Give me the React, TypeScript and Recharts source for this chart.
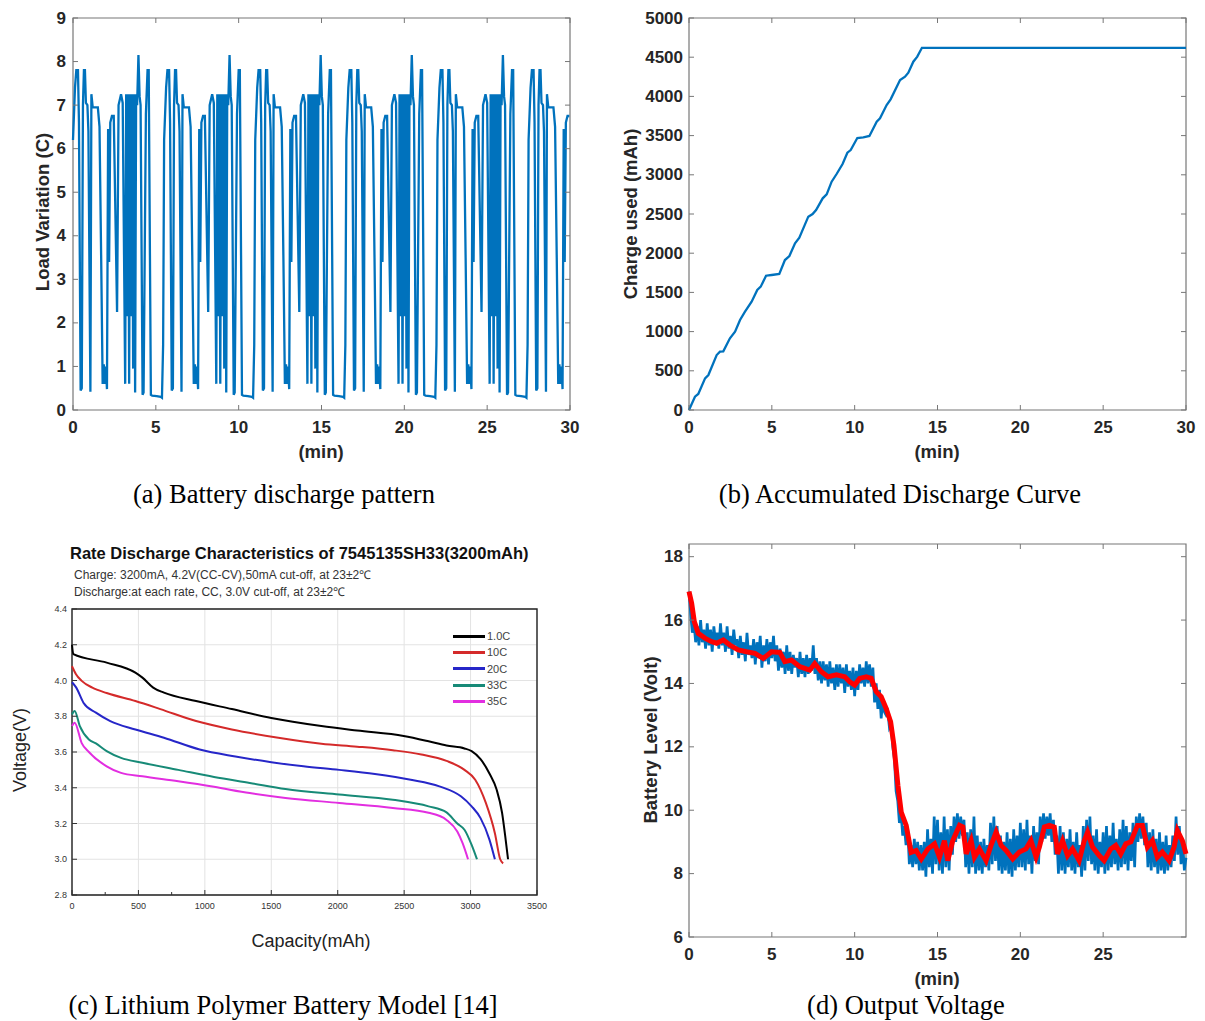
import React from "react";
import {
  LineChart,
  Line,
  XAxis,
  YAxis,
  CartesianGrid,
  ReferenceArea,
  Legend,
} from "recharts";

// ---------- (a) battery discharge pattern ----------
// one load cycle read from the first 5.5 min of the trace, the pattern repeats
const LOAD_CYCLE_T = [
  0, 0.12, 0.2, 0.3, 0.36, 0.46, 0.53, 0.6, 0.66, 0.72, 0.78, 0.87, 0.93, 1.05,
  1.11, 1.19, 1.5, 1.6, 1.7, 1.79, 1.86, 1.92, 1.98, 2.05, 2.12, 2.18, 2.25,
  2.35, 2.46, 2.66, 2.75, 2.9, 3.0, 3.15, 3.21, 3.27, 3.33, 3.39, 3.45, 3.51,
  3.57, 3.63, 3.69, 3.75, 3.81, 3.87, 3.95, 4.02, 4.08, 4.2, 4.26, 4.4, 4.5,
  4.57, 4.7, 4.78, 5.05, 5.3, 5.37, 5.44,
];
const LOAD_CYCLE_V = [
  6.2, 7.4, 7.8, 7.8, 6.6, 0.45, 0.5, 7.0, 7.8, 7.8, 7.05, 7.0, 6.4, 0.42,
  7.25, 6.95, 6.95, 6.5, 3.5, 0.6, 1.05, 0.6, 1.0, 0.48, 6.45, 3.4, 6.6,
  6.75, 6.75, 2.25, 7.0, 7.25, 7.05, 0.6, 7.25, 2.15, 7.25, 0.6, 7.25, 2.15,
  7.25, 0.95, 7.25, 0.4, 7.25, 7.0, 8.15, 7.2, 7.0, 0.35, 0.4, 6.8, 7.8,
  7.8, 0.35, 0.33, 0.32, 0.3, 0.28, 1.5,
];
const LOAD_CYCLE_STARTS = [0, 5.5, 11, 16.5, 22, 27.5];
const LOAD_TICKS = [0, 1, 2, 3, 4, 5, 6, 7, 8, 9];
const MIN_TICKS = [0, 5, 10, 15, 20, 25, 30];

// ---------- (b) accumulated discharge ----------
const CHARGE_T = [
  0, 0.36, 0.56, 0.97, 1.17, 1.67, 1.87, 2.07, 2.47, 2.78, 3.08, 3.38, 3.78,
  4.12, 4.33, 4.65, 4.99, 5.45, 5.79, 6.06, 6.4, 6.66, 7.2, 7.46, 7.67, 8.07,
  8.31, 8.61, 8.91, 9.27, 9.56, 9.76, 10.16, 10.52, 10.89, 11.33, 11.53,
  11.93, 12.17, 12.74, 13.04, 13.24, 13.54, 13.78, 14.06, 30,
];
const CHARGE_V = [
  0, 170, 204, 404, 446, 701, 744, 748, 914, 999, 1148, 1254, 1382, 1531,
  1573, 1713, 1722, 1735, 1913, 1964, 2126, 2198, 2466, 2500, 2551, 2700,
  2751, 2912, 3010, 3138, 3282, 3316, 3469, 3478, 3495, 3678, 3720, 3890,
  3963, 4209, 4252, 4303, 4443, 4507, 4620, 4620,
];
const CHARGE_TICKS = [0, 500, 1000, 1500, 2000, 2500, 3000, 3500, 4000, 4500, 5000];

// ---------- (c) rate discharge characteristics ----------
const CAP_1C = [0, 10, 261, 477, 530, 611, 692, 934, 1203, 1500, 1877, 2146, 2496, 2684, 2819, 2954, 3008, 3075, 3142, 3196, 3237, 3264, 3282];
const VOLT_1C = [4.2, 4.147, 4.1, 4.044, 4.016, 3.96, 3.932, 3.885, 3.84, 3.79, 3.745, 3.72, 3.69, 3.66, 3.636, 3.62, 3.605, 3.56, 3.48, 3.39, 3.26, 3.11, 3.0];
const CAP_10C = [0, 30, 73, 153, 261, 477, 665, 934, 1203, 1553, 1877, 2146, 2415, 2630, 2819, 2954, 3035, 3115, 3183, 3223, 3245];
const VOLT_10C = [4.08, 4.035, 3.998, 3.96, 3.93, 3.885, 3.84, 3.773, 3.726, 3.68, 3.646, 3.63, 3.61, 3.586, 3.55, 3.5, 3.445, 3.315, 3.146, 3.0, 2.977];
const CAP_20C = [0, 32, 86, 180, 288, 477, 692, 961, 1230, 1500, 1742, 2011, 2280, 2550, 2765, 2927, 3008, 3075, 3142, 3183];
const VOLT_20C = [3.99, 3.96, 3.876, 3.82, 3.773, 3.726, 3.68, 3.614, 3.575, 3.543, 3.52, 3.5, 3.477, 3.445, 3.408, 3.352, 3.296, 3.23, 3.11, 3.0];
const CAP_33C = [0, 20, 59, 127, 180, 261, 369, 530, 800, 1069, 1338, 1607, 2011, 2415, 2684, 2819, 2900, 2954, 3008, 3048];
const VOLT_33C = [3.81, 3.83, 3.745, 3.67, 3.648, 3.605, 3.567, 3.54, 3.5, 3.46, 3.427, 3.393, 3.362, 3.333, 3.296, 3.262, 3.2, 3.165, 3.08, 3.0];
const CAP_35C = [0, 20, 73, 127, 261, 369, 530, 800, 1069, 1338, 1607, 2011, 2415, 2684, 2819, 2900, 2940, 2981];
const VOLT_35C = [3.745, 3.764, 3.65, 3.6, 3.52, 3.483, 3.464, 3.436, 3.405, 3.37, 3.343, 3.315, 3.287, 3.26, 3.22, 3.155, 3.09, 3.0];
const CAP_TICKS = [0, 250, 500, 750, 1000, 1250, 1500, 1750, 2000, 2250, 2500, 2750, 3000, 3250, 3500];
const CAP_GRID = [0, 500, 1000, 1500, 2000, 2500, 3000, 3500];
const VOLT_TICKS = [2.8, 2.9, 3.0, 3.1, 3.2, 3.3, 3.4, 3.5, 3.6, 3.7, 3.8, 3.9, 4.0, 4.1, 4.2, 4.3, 4.4];
const VOLT_GRID = [2.8, 3.0, 3.2, 3.4, 3.6, 3.8, 4.0, 4.2, 4.4];

// ---------- (d) output voltage ----------
const RED_T = [
  0, 0.16, 0.32, 0.56, 0.96, 1.37, 1.67, 2.07, 2.47, 2.97,
  3.47, 3.98, 4.48, 4.98, 5.48, 5.78, 6.18, 6.69, 7.29, 7.59,
  7.99, 8.39, 8.9, 9.4, 9.7, 10.0, 10.3, 10.7, 11.0, 11.3,
  11.6, 11.9, 12.17, 12.37, 12.61, 12.81, 13.11, 13.41, 13.71, 14.02,
  14.42, 14.82, 15.12, 15.42, 15.62, 15.92, 16.33, 16.53, 16.73, 17.03,
  17.23, 17.53, 17.93, 18.23, 18.54, 18.84, 19.14, 19.54, 19.94, 20.34,
  20.64, 20.95, 21.15, 21.45, 21.75, 22.05, 22.25, 22.55, 22.85, 23.15,
  23.55, 23.86, 24.06, 24.36, 24.76, 25.06, 25.46, 25.76, 26.06, 26.37,
  26.67, 27.07, 27.37, 27.67, 27.97, 28.27, 28.57, 28.98, 29.28, 29.48,
  29.78, 30.0,
];
const RED_V = [
  16.9, 16.53, 15.95, 15.58, 15.43, 15.32, 15.27, 15.37, 15.21, 15.06,
  15.0, 14.95, 14.79, 15.0, 14.98, 14.69, 14.74, 14.53, 14.42, 14.63,
  14.37, 14.21, 14.27, 14.21, 14.05, 13.95, 14.16, 14.21, 14.16, 13.74,
  13.58, 13.21, 12.79, 12.05, 10.78, 9.94, 9.52, 8.67, 8.73, 8.46,
  8.78, 8.94, 8.52, 9.04, 8.41, 9.04, 9.52, 9.47, 8.62, 9.04,
  8.52, 8.78, 8.41, 8.89, 9.31, 8.89, 8.73, 8.46, 8.68, 8.78,
  9.04, 8.52, 8.84, 9.47, 9.52, 9.47, 8.62, 9.04, 8.57, 8.78,
  8.41, 9.04, 9.31, 8.84, 8.57, 8.41, 8.78, 8.89, 8.62, 8.94,
  9.0, 9.52, 9.52, 8.84, 9.04, 8.52, 8.68, 8.41, 8.84, 9.36,
  9.04, 8.62,
];
// raw (noisy) voltage, sampled every 0.1 min
const BLUE_STEP = 0.1;
const BLUE_V = [
  16.9, 16.2, 15.6, 15.9, 15.3, 15.8, 15.2, 16.0, 15.3, 15.7,
  15.1, 15.9, 15.2, 15.7, 15.0, 15.8, 15.3, 15.6, 15.1, 15.9,
  15.2, 15.6, 15.0, 15.8, 15.1, 15.5, 14.9, 15.7, 15.2, 15.4,
  14.8, 15.5, 14.9, 15.3, 14.7, 15.6, 14.9, 15.2, 14.8, 15.4,
  14.6, 15.3, 14.8, 15.5, 14.5, 15.2, 14.7, 15.4, 14.6, 15.3,
  14.8, 15.5, 14.7, 15.2, 14.4, 15.1, 14.5, 15.0, 14.3, 15.2,
  14.4, 15.0, 14.3, 14.9, 14.5, 14.8, 14.2, 15.0, 14.3, 14.8,
  14.2, 14.9, 14.3, 14.8, 14.4, 15.2, 14.3, 14.8, 14.1, 14.7,
  14.0, 14.7, 14.1, 14.6, 13.9, 14.7, 14.0, 14.5, 13.8, 14.6,
  13.9, 14.6, 14.0, 14.5, 13.7, 14.6, 13.9, 14.4, 13.8, 14.5,
  13.6, 14.4, 13.8, 14.6, 14.0, 14.5, 13.9, 14.7, 14.0, 14.6,
  13.9, 14.5, 13.4, 14.0, 13.2, 13.8, 12.9, 13.5, 13.1, 13.0,
  13.1, 12.6, 12.7, 12.0, 11.6, 10.6, 10.3, 9.6, 9.9, 9.2,
  9.5, 8.9, 9.4, 8.3, 8.9, 8.2, 9.1, 8.3, 9.0, 8.1,
  8.9, 8.1, 9.0, 7.9, 9.4, 8.2, 9.1, 8.0, 9.8, 8.3,
  9.7, 8.1, 9.3, 8.0, 9.8, 8.2, 9.4, 8.1, 9.5, 8.6,
  9.8, 9.0, 9.9, 9.1, 9.8, 9.2, 9.7, 8.2, 9.3, 8.0,
  9.4, 8.2, 9.8, 8.0, 9.2, 8.1, 9.0, 8.0, 9.1, 8.2,
  8.9, 8.1, 9.6, 8.3, 9.8, 8.4, 9.5, 8.1, 9.2, 8.0,
  9.0, 8.1, 9.3, 8.0, 9.1, 7.9, 9.4, 8.1, 9.2, 8.2,
  9.6, 8.2, 9.4, 8.1, 9.7, 8.3, 9.2, 8.0, 9.5, 8.4,
  9.3, 8.3, 9.8, 9.0, 9.9, 9.1, 9.8, 9.2, 9.9, 9.0,
  9.7, 8.6, 9.2, 8.0, 9.5, 8.1, 9.3, 8.0, 9.1, 8.2,
  9.4, 8.1, 9.0, 8.0, 9.3, 8.2, 8.9, 7.9, 9.5, 8.1,
  9.7, 8.4, 9.8, 8.3, 9.2, 8.1, 9.4, 8.0, 9.0, 8.2,
  9.3, 8.0, 9.5, 8.1, 9.2, 8.2, 9.6, 8.3, 9.1, 8.1,
  9.4, 8.2, 9.7, 8.3, 9.5, 8.1, 9.3, 8.4, 9.6, 8.2,
  9.8, 9.0, 9.9, 9.1, 9.8, 8.9, 9.6, 8.2, 9.3, 8.1,
  9.4, 8.2, 9.1, 8.0, 9.3, 8.1, 9.0, 8.0, 9.2, 8.1,
  8.9, 8.2, 9.2, 8.4, 9.8, 8.6, 9.5, 8.3, 9.0, 8.1,
  8.5,
];
const VOLT_D_TICKS = [6, 8, 10, 12, 14, 16, 18];
const MIN_D_TICKS = [0, 5, 10, 15, 20, 25];

// ---------- helpers ----------
const zip = (xs: number[], ys: number[]) => xs.map((x, i) => ({ x, y: ys[i] }));

const loadData = LOAD_CYCLE_STARTS.flatMap((s) =>
  LOAD_CYCLE_T.map((t, i) => ({ x: Math.round((s + t) * 100) / 100, y: LOAD_CYCLE_V[i] }))
).filter((d) => d.x <= 30);
const chargeData = zip(CHARGE_T, CHARGE_V);
const blueData = BLUE_V.map((y, i) => ({ x: Math.round(i * BLUE_STEP * 10) / 10, y }));
const redData = zip(RED_T, RED_V);

const SANS = "'Liberation Sans', Arial, sans-serif";
const SERIF = "'Liberation Serif', 'Times New Roman', serif";
const AX = "#777777";
const TXT = "#262626";
const MBLUE = "#0072BD";

type Box = { l: number; r: number; t: number; b: number };
type TickOpts = {
  len: number;
  minor?: number;
  color: string;
  gap: number;
  size: number;
  weight: string | number;
  fill: string;
  mirror: boolean;
  isMajor?: (v: number) => boolean;
  fmt?: (v: number) => string;
};

const xTick = (box: Box, o: TickOpts) => (p: any) => {
  const v = p.payload.value;
  const x = p.x;
  const major = o.isMajor ? o.isMajor(v) : true;
  const len = major ? o.len : o.minor ?? o.len;
  return (
    <g>
      <line x1={x} x2={x} y1={box.b} y2={box.b - len} stroke={o.color} />
      {o.mirror && <line x1={x} x2={x} y1={box.t} y2={box.t + len} stroke={o.color} />}
      {major && (
        <text x={x} y={box.b + o.gap} textAnchor="middle" dominantBaseline="central"
          fontFamily={SANS} fontSize={o.size} fontWeight={o.weight} fill={o.fill}>
          {o.fmt ? o.fmt(v) : v}
        </text>
      )}
    </g>
  );
};

const yTick = (box: Box, o: TickOpts) => (p: any) => {
  const v = p.payload.value;
  const y = p.y;
  const major = o.isMajor ? o.isMajor(v) : true;
  const len = major ? o.len : o.minor ?? o.len;
  return (
    <g>
      <line x1={box.l} x2={box.l + len} y1={y} y2={y} stroke={o.color} />
      {o.mirror && <line x1={box.r} x2={box.r - len} y1={y} y2={y} stroke={o.color} />}
      {major && (
        <text x={box.l - o.gap} y={y} textAnchor="end" dominantBaseline="central"
          fontFamily={SANS} fontSize={o.size} fontWeight={o.weight} fill={o.fill}>
          {o.fmt ? o.fmt(v) : v}
        </text>
      )}
    </g>
  );
};

const hText = (text: string, cx: number, cy: number, size: number, weight: string | number, fill: string) => () => (
  <text x={cx} y={cy} textAnchor="middle" dominantBaseline="central"
    fontFamily={SANS} fontSize={size} fontWeight={weight} fill={fill}>{text}</text>
);
const vText = (text: string, cx: number, cy: number, size: number, weight: string | number, fill: string) => () => (
  <text x={cx} y={cy} transform={`rotate(-90 ${cx} ${cy})`} textAnchor="middle" dominantBaseline="central"
    fontFamily={SANS} fontSize={size} fontWeight={weight} fill={fill}>{text}</text>
);

const matlab: Omit<TickOpts, "gap"> = {
  len: 5, color: AX, size: 17, weight: "bold", fill: TXT, mirror: true,
};
const LABEL_SIZE = 18.5;

const Caption = ({ text, cx, cy }: { text: string; cx: number; cy: number }) => (
  <div style={{
    position: "absolute", left: cx - 260, top: cy - 16, width: 520, height: 32,
    textAlign: "center", fontFamily: SERIF, fontSize: 26.5, lineHeight: "32px", color: "#000",
    whiteSpace: "nowrap",
  }}>{text}</div>
);

// ---------- panels ----------
const BOX_AB: Box = { l: 73, r: 570, t: 18, b: 410 };

function PanelA() {
  return (
    <div style={{ position: "absolute", left: 0, top: 0 }}>
      <LineChart width={600} height={470} data={loadData} margin={{ top: 18, right: 30, bottom: 0, left: 0 }}>
        <XAxis dataKey="x" type="number" domain={[0, 30]} ticks={MIN_TICKS} height={60}
          axisLine={false} tickLine={false} tick={xTick(BOX_AB, { ...matlab, gap: 17 })}
          label={hText("(min)", 321, 451, LABEL_SIZE, "bold", TXT)} />
        <YAxis type="number" domain={[0, 9]} ticks={LOAD_TICKS} width={73}
          axisLine={false} tickLine={false} tick={yTick(BOX_AB, { ...matlab, gap: 7 })}
          label={vText("Load Variation (C)", 42, 212, LABEL_SIZE, "bold", TXT)} />
        <ReferenceArea x1={0} x2={30} y1={0} y2={9} fill="none" stroke={AX} strokeWidth={1.2} />
        <Line dataKey="y" type="linear" stroke={MBLUE} strokeWidth={2.3} dot={false} isAnimationActive={false} />
      </LineChart>
    </div>
  );
}

function PanelB() {
  return (
    <div style={{ position: "absolute", left: 616, top: 0 }}>
      <LineChart width={589} height={470} data={chargeData} margin={{ top: 18, right: 19, bottom: 0, left: 0 }}>
        <XAxis dataKey="x" type="number" domain={[0, 30]} ticks={MIN_TICKS} height={60}
          axisLine={false} tickLine={false} tick={xTick(BOX_AB, { ...matlab, gap: 17 })}
          label={hText("(min)", 321, 451, LABEL_SIZE, "bold", TXT)} />
        <YAxis type="number" domain={[0, 5000]} ticks={CHARGE_TICKS} width={73}
          axisLine={false} tickLine={false} tick={yTick(BOX_AB, { ...matlab, gap: 6 })}
          label={vText("Charge used (mAh)", 14, 214, LABEL_SIZE, "bold", TXT)} />
        <ReferenceArea x1={0} x2={30} y1={0} y2={5000} fill="none" stroke={AX} strokeWidth={1.2} />
        <Line dataKey="y" type="linear" stroke={MBLUE} strokeWidth={2.3} dot={false} isAnimationActive={false} />
      </LineChart>
    </div>
  );
}

const BOX_C: Box = { l: 72, r: 537, t: 9, b: 295 };
const cTick: Omit<TickOpts, "gap"> = {
  len: 5, minor: 3, color: "#333", size: 9, weight: "normal", fill: "#333", mirror: false,
};

function PanelC() {
  const series = [
    { name: "1.0C", color: "#000000", data: zip(CAP_1C, VOLT_1C) },
    { name: "10C", color: "#d42a2a", data: zip(CAP_10C, VOLT_10C) },
    { name: "20C", color: "#2626c8", data: zip(CAP_20C, VOLT_20C) },
    { name: "33C", color: "#178a77", data: zip(CAP_33C, VOLT_33C) },
    { name: "35C", color: "#e22ee0", data: zip(CAP_35C, VOLT_35C) },
  ];
  return (
    <>
      <div style={{ position: "absolute", left: 70, top: 543, fontFamily: SANS, fontWeight: "bold", fontSize: 16.5, lineHeight: "20px", color: "#111", whiteSpace: "nowrap" }}>
        Rate Discharge Characteristics of 7545135SH33(3200mAh)
      </div>
      <div style={{ position: "absolute", left: 74, top: 567, fontFamily: SANS, fontSize: 12, color: "#333", whiteSpace: "nowrap", lineHeight: "17px" }}>
        Charge: 3200mA, 4.2V(CC-CV),50mA cut-off, at 23±2℃<br />
        Discharge:at each rate, CC, 3.0V cut-off, at 23±2℃
      </div>
      <div style={{ position: "absolute", left: 0, top: 600 }}>
        <LineChart width={560} height={360} margin={{ top: 9, right: 23, bottom: 0, left: 0 }}>
          <CartesianGrid stroke="#e3e3e3" horizontalValues={VOLT_GRID} verticalValues={CAP_GRID} />
          <XAxis dataKey="x" type="number" domain={[0, 3500]} ticks={CAP_TICKS} height={65}
            axisLine={false} tickLine={false}
            tick={xTick(BOX_C, { ...cTick, gap: 11, isMajor: (v) => v % 500 === 0 })}
            label={hText("Capacity(mAh)", 311, 341, 18, "normal", "#222")} />
          <YAxis type="number" domain={[2.8, 4.4]} ticks={VOLT_TICKS} width={72}
            axisLine={false} tickLine={false}
            tick={yTick(BOX_C, { ...cTick, gap: 5, isMajor: (v) => Math.round(v * 10) % 2 === 0, fmt: (v) => v.toFixed(1) })}
            label={vText("Voltage(V)", 20, 150, 18, "normal", "#222")} />
          <ReferenceArea x1={0} x2={3500} y1={2.8} y2={4.4} fill="none" stroke="#222" strokeWidth={1.4} />
          {series.map((s) => (
            <Line key={s.name} name={s.name} data={s.data} dataKey="y" type="monotone"
              stroke={s.color} strokeWidth={2} dot={false} isAnimationActive={false} />
          ))}
          <Legend layout="vertical" align="center" verticalAlign="middle"
            wrapperStyle={{ position: "absolute", left: 453, top: 28, width: 80, height: 85 }}
            content={(p: any) => (
              <div>
                {(p.payload || []).map((e: any) => (
                  <div key={e.value} style={{ display: "flex", alignItems: "center", height: 16.3 }}>
                    <span style={{ display: "inline-block", width: 32, height: 3, background: e.color }} />
                    <span style={{ fontFamily: SANS, fontSize: 11, color: "#444", marginLeft: 2 }}>{e.value}</span>
                  </div>
                ))}
              </div>
            )} />
        </LineChart>
      </div>
    </>
  );
}

const BOX_D: Box = { l: 73, r: 570, t: 4, b: 397 };

function PanelD() {
  return (
    <div style={{ position: "absolute", left: 616, top: 540 }}>
      <LineChart width={589} height={460} margin={{ top: 4, right: 19, bottom: 0, left: 0 }}>
        <XAxis dataKey="x" type="number" domain={[0, 30]} ticks={MIN_D_TICKS} height={63}
          axisLine={false} tickLine={false} tick={xTick(BOX_D, { ...matlab, gap: 17 })}
          label={hText("(min)", 321, 438, LABEL_SIZE, "bold", TXT)} />
        <YAxis type="number" domain={[6, 18.4]} ticks={VOLT_D_TICKS} width={73}
          axisLine={false} tickLine={false} tick={yTick(BOX_D, { ...matlab, gap: 6 })}
          label={vText("Battery Level (Volt)", 34, 200, LABEL_SIZE, "bold", TXT)} />
        <ReferenceArea x1={0} x2={30} y1={6} y2={18.4} fill="none" stroke={AX} strokeWidth={1.2} />
        <Line data={blueData} dataKey="y" type="linear" stroke={MBLUE} strokeWidth={2.7} dot={false} isAnimationActive={false} />
        <Line data={redData} dataKey="y" type="linear" stroke="#ff0000" strokeWidth={5} dot={false} isAnimationActive={false} />
      </LineChart>
    </div>
  );
}

export default function App() {
  return (
    <div style={{ position: "absolute", left: 0, top: 0, width: 1205, height: 1021, background: "#fff" }}>
      <PanelA />
      <PanelB />
      <PanelC />
      <PanelD />
      <Caption text="(a) Battery discharge pattern" cx={284} cy={494} />
      <Caption text="(b) Accumulated Discharge Curve" cx={900} cy={494} />
      <Caption text="(c) Lithium Polymer Battery Model [14]" cx={283} cy={1005} />
      <Caption text="(d) Output Voltage" cx={906} cy={1005} />
    </div>
  );
}
